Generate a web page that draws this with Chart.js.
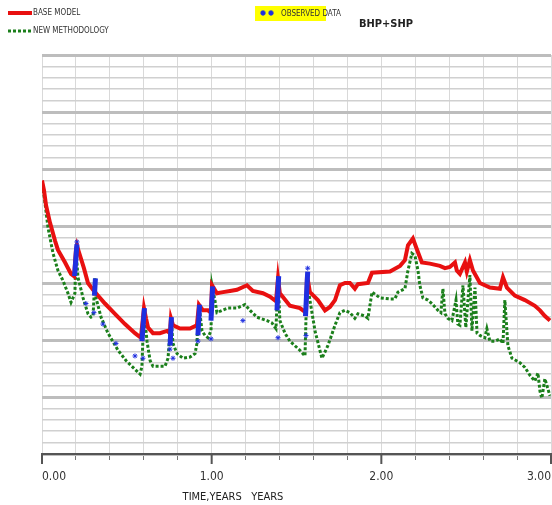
<!DOCTYPE html>
<html>
<head>
<meta charset="utf-8">
<style>
html, body { margin: 0; padding: 0; background: #fff; overflow: hidden; width: 552px; height: 505px; }
canvas { display: block; }
</style>
<script src="https://cdn.jsdelivr.net/npm/chart.js@4.4.1/dist/chart.umd.min.js"></script>
</head>
<body>
<canvas id="bhp" width="556" height="505"></canvas>
<script>
const chartTitle = 'BHP+SHP';
const axisTitle = 'TIME,YEARS   YEARS';
const seriesLabels = ['BASE MODEL', 'NEW METHODOLOGY', 'OBSERVED DATA'];
const yearTicks = [0, 1, 2, 3];

// base model (red)
const baseTime = [0, 0.012, 0.024, 0.047, 0.077, 0.094, 0.136, 0.171, 0.189, 0.200, 0.206, 0.218, 0.247, 0.271, 0.301,
  0.318, 0.371, 0.430, 0.489, 0.548, 0.583, 0.601, 0.613, 0.625, 0.654, 0.695, 0.737, 0.754, 0.760, 0.772, 0.813,
  0.872, 0.913, 0.925, 0.949, 0.978, 0.996, 1.002, 1.031, 1.067, 1.108, 1.149, 1.208, 1.243, 1.302, 1.344, 1.379,
  1.391, 1.402, 1.461, 1.520, 1.556, 1.562, 1.579, 1.626, 1.668, 1.697, 1.727, 1.756, 1.786, 1.815, 1.844, 1.862,
  1.921, 1.945, 2.051, 2.110, 2.139, 2.157, 2.186, 2.216, 2.239, 2.286, 2.345, 2.375, 2.404, 2.434, 2.445, 2.463,
  2.493, 2.504, 2.522, 2.540, 2.581, 2.640, 2.699, 2.717, 2.740, 2.787, 2.846, 2.905, 2.935, 2.964, 2.994];
const baseValues = [24.0, 23.1, 21.8, 20.3, 18.7, 17.9, 16.8, 15.8, 15.6, 17.9, 18.3, 17.7, 16.3, 15.0, 14.4,
  14.1, 13.2, 12.3, 11.4, 10.6, 10.2, 12.8, 11.9, 11.1, 10.6, 10.6, 10.8, 10.6, 11.9, 11.3, 11.0,
  11.0, 11.3, 13.1, 12.6, 12.6, 12.4, 14.8, 14.1, 14.2, 14.3, 14.4, 14.8, 14.3, 14.1, 13.8, 13.4,
  15.4, 14.1, 13.0, 12.8, 12.4, 15.7, 14.2, 13.5, 12.6, 12.9, 13.5, 14.8, 15.0, 15.0, 14.5, 14.9,
  15.0, 15.9, 16.0, 16.5, 17.0, 18.3, 18.9, 17.7, 16.8, 16.7, 16.5, 16.3, 16.4, 16.8, 16.1, 15.8,
  16.8, 16.0, 17.0, 16.1, 15.0, 14.6, 14.5, 15.5, 14.6, 13.9, 13.5, 13.0, 12.6, 12.1, 11.7];

// new methodology (green)
const newTime = [0, 0.012, 0.035, 0.065, 0.094, 0.124, 0.153, 0.171, 0.194, 0.200, 0.212, 0.242, 0.271, 0.289, 0.301,
  0.312, 0.318, 0.348, 0.389, 0.448, 0.495, 0.536, 0.578, 0.589, 0.601, 0.619, 0.637, 0.654, 0.695, 0.725, 0.743,
  0.760, 0.772, 0.796, 0.831, 0.872, 0.902, 0.913, 0.925, 0.943, 0.961, 0.978, 0.996, 1.002, 1.019, 1.031, 1.061,
  1.096, 1.149, 1.196, 1.226, 1.267, 1.326, 1.355, 1.379, 1.391, 1.402, 1.432, 1.461, 1.520, 1.550, 1.562, 1.579,
  1.609, 1.638, 1.650, 1.685, 1.727, 1.756, 1.786, 1.815, 1.844, 1.862, 1.903, 1.921, 1.945, 1.992, 2.051, 2.080,
  2.098, 2.139, 2.157, 2.180, 2.198, 2.216, 2.227, 2.245, 2.275, 2.298, 2.334, 2.351, 2.363, 2.375, 2.392, 2.416,
  2.440, 2.451, 2.463, 2.481, 2.498, 2.522, 2.534, 2.552, 2.564, 2.581, 2.610, 2.622, 2.640, 2.669, 2.699, 2.717,
  2.728, 2.746, 2.770, 2.817, 2.846, 2.876, 2.905, 2.923, 2.935, 2.946, 2.964, 2.982, 2.994];
const newValues = [23.6, 22.7, 19.9, 17.6, 16.1, 15.2, 14.1, 13.3, 14.1, 18.0, 15.5, 13.7, 12.3, 12.0, 12.1,
  15.4, 13.7, 12.0, 10.6, 9.1, 8.2, 7.6, 7.0, 7.7, 12.6, 9.9, 8.2, 7.7, 7.7, 7.7, 8.4,
  12.0, 9.7, 8.8, 8.4, 8.5, 8.8, 9.7, 13.1, 10.8, 10.4, 10.2, 10.8, 14.8, 13.5, 12.4, 12.6,
  12.8, 12.8, 13.1, 12.6, 12.0, 11.7, 11.5, 11.0, 15.4, 11.7, 10.6, 9.9, 9.1, 8.6, 15.2, 13.5,
  10.8, 9.1, 8.4, 9.5, 11.3, 12.4, 12.6, 12.4, 11.9, 12.3, 12.1, 11.9, 14.2, 13.7, 13.6, 13.6,
  14.2, 14.5, 16.1, 17.6, 17.4, 16.1, 14.8, 13.7, 13.5, 13.2, 12.6, 12.4, 14.5, 12.3, 11.9, 11.7,
  13.5, 11.4, 11.3, 14.8, 11.1, 15.7, 10.8, 14.6, 10.6, 10.4, 10.2, 11.0, 9.9, 9.9, 10.1, 9.7,
  13.5, 9.5, 8.4, 8.0, 7.6, 6.9, 6.4, 7.1, 5.5, 4.9, 6.6, 5.7, 5.1];

// observed data (blue asterisks)
const obsTime = [0.206, 0.259, 0.306, 0.359, 0.436, 0.548, 0.595, 0.754, 0.772, 0.919, 0.996, 1.184, 1.391, 1.556, 1.566];
const obsValues = [18.6, 13.2, 12.4, 11.4, 9.7, 8.6, 8.4, 9.2, 8.4, 9.9, 10.1, 11.7, 10.2, 10.4, 16.3];

// pressure build-ups recorded densely (blue bars)
const buildupStart = [0.192, 0.309, 0.589, 0.755, 0.919, 0.996, 1.385, 1.553];
const buildupEnd = [0.206, 0.315, 0.604, 0.763, 0.929, 1.006, 1.395, 1.566];
const buildupLow = [15.6, 13.9, 9.9, 9.5, 10.4, 11.7, 12.6, 12.1];
const buildupHigh = [18.4, 15.4, 12.8, 12.0, 13.1, 14.7, 15.6, 16.0];

const red = '#e81010';
const green = '#1b7f1b';
const blue = '#1f2fe0';
const fontFamily = '"Liberation Sans Narrow", "DejaVu Sans Condensed", sans-serif';

const toPoints = (xs, ys) => xs.map((t, i) => ({ x: t, y: ys[i] }));

const buildupPoints = [];
buildupStart.forEach((t, i) => {
    buildupPoints.push({ x: t, y: buildupLow[i] });
    buildupPoints.push({ x: buildupEnd[i], y: buildupHigh[i] });
    buildupPoints.push({ x: buildupEnd[i], y: null });
});

const decorations = {
    id: 'decorations',
    afterDraw(chart) {
        const ctx = chart.ctx;
        const xs = chart.scales.x;
        const area = chart.chartArea;
        ctx.save();

        // longer tick marks at whole years
        ctx.strokeStyle = '#555';
        ctx.lineWidth = 2;
        yearTicks.forEach(yr => {
            const px = xs.getPixelForValue(yr);
            ctx.beginPath();
            ctx.moveTo(px, area.bottom);
            ctx.lineTo(px, area.bottom + 10);
            ctx.stroke();
        });

        // legend
        ctx.lineWidth = 4;
        ctx.strokeStyle = red;
        ctx.beginPath();
        ctx.moveTo(8, 13);
        ctx.lineTo(32, 13);
        ctx.stroke();

        ctx.lineWidth = 3;
        ctx.strokeStyle = green;
        ctx.setLineDash([3, 2]);
        ctx.beginPath();
        ctx.moveTo(8, 31);
        ctx.lineTo(32, 31);
        ctx.stroke();
        ctx.setLineDash([]);

        ctx.font = '8px ' + fontFamily;
        ctx.fillStyle = '#333';
        ctx.textBaseline = 'middle';
        ctx.textAlign = 'left';
        ctx.fillText(seriesLabels[0], 33, 13);
        ctx.fillText(seriesLabels[1], 33, 31);

        ctx.fillStyle = '#ffff00';
        ctx.fillRect(255, 6, 71, 15);
        ctx.strokeStyle = blue;
        ctx.fillStyle = blue;
        Chart.helpers.drawPoint(ctx, { pointStyle: 'star', radius: 2.5, borderWidth: 1, rotation: 0 }, 263, 13);
        Chart.helpers.drawPoint(ctx, { pointStyle: 'star', radius: 2.5, borderWidth: 1, rotation: 0 }, 271, 13);
        ctx.fillStyle = '#333';
        ctx.fillText(seriesLabels[2], 281, 14);

        // title and axis title
        ctx.font = 'bold 11px ' + fontFamily;
        ctx.fillStyle = '#222';
        ctx.textAlign = 'center';
        ctx.fillText(chartTitle, 386, 24);
        ctx.font = '11px ' + fontFamily;
        ctx.fillText(axisTitle, 233, 497);

        ctx.restore();
    }
};

new Chart(document.getElementById('bhp'), {
    type: 'line',
    data: {
        datasets: [{
            label: seriesLabels[2],
            data: toPoints(obsTime, obsValues),
            showLine: false,
            pointStyle: 'star',
            pointRadius: 2.5,
            pointBorderWidth: 1,
            borderColor: blue,
            backgroundColor: blue
        }, {
            label: seriesLabels[2] + ' build-up',
            data: buildupPoints,
            spanGaps: false,
            borderColor: blue,
            borderWidth: 5,
            pointRadius: 0
        }, {
            label: seriesLabels[0],
            data: toPoints(baseTime, baseValues),
            borderColor: red,
            borderWidth: 4,
            pointRadius: 0
        }, {
            label: seriesLabels[1],
            data: toPoints(newTime, newValues),
            borderColor: green,
            borderWidth: 3,
            borderDash: [3, 2],
            pointRadius: 0
        }]
    },
    options: {
        responsive: false,
        animation: false,
        devicePixelRatio: 1,
        layout: {
            padding: { top: 55, right: 0, left: 0, bottom: 0 }
        },
        scales: {
            x: {
                type: 'linear',
                min: 0,
                max: 3,
                afterFit: (scale) => {
                    scale.height = 51;
                    scale.paddingLeft = 0;
                    scale.paddingRight = 0;
                },
                border: { display: true, color: '#555', width: 2 },
                grid: {
                    color: '#d9d9d9',
                    lineWidth: 1,
                    tickLength: 6,
                    tickColor: '#777'
                },
                ticks: {
                    stepSize: 0.2,
                    autoSkip: false,
                    maxRotation: 0,
                    align: 'inner',
                    padding: 10,
                    color: '#333',
                    font: { family: fontFamily, size: 12 },
                    callback: (value) => Math.abs(value - Math.round(value)) < 1e-6 ? value.toFixed(2) : ''
                }
            },
            y: {
                min: 0,
                max: 35,
                afterFit: (scale) => { scale.width = 42; },
                border: { display: false },
                grid: {
                    drawTicks: false,
                    color: (c) => c.tick && c.tick.value % 5 === 0 ? '#bdbdbd' : '#d0d0d0',
                    lineWidth: (c) => c.tick && c.tick.value % 5 === 0 ? 3 : 1.5
                },
                ticks: {
                    display: false,
                    stepSize: 1
                }
            }
        },
        plugins: {
            legend: { display: false },
            tooltip: { enabled: false }
        }
    },
    plugins: [decorations]
});
</script>
</body>
</html>
